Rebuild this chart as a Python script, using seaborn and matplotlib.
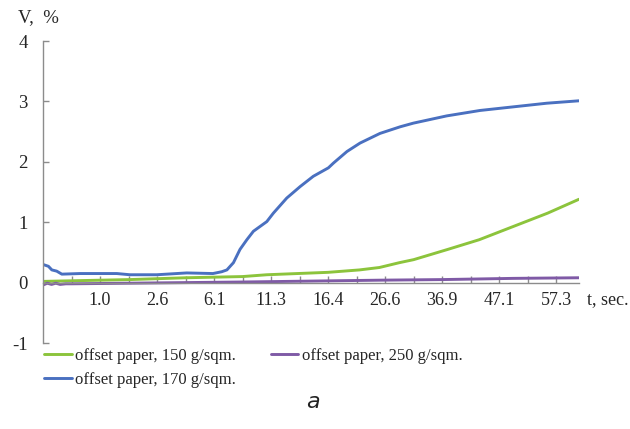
import numpy as np
import pandas as pd
import matplotlib
matplotlib.use("Agg")
import matplotlib.pyplot as plt
import seaborn as sns

# x positions are in category-tick units (one unit = one minor tick on the axis)
time_labels = ["1.0", "2.6", "6.1", "11.3", "16.4", "26.6", "36.9", "47.1", "57.3"]
label_pos = [2, 4, 6, 8, 10, 12, 14, 16, 18]

x_150 = [0.0, 1.0, 3.05, 5.0, 7.0, 7.85, 10.0, 11.1, 11.8, 12.5, 13.0, 14.2, 15.3, 16.5, 17.7, 18.8]
v_150 = [0.02, 0.03, 0.05, 0.08, 0.10, 0.13, 0.17, 0.21, 0.25, 0.33, 0.38, 0.55, 0.71, 0.93, 1.15, 1.38]

x_170 = [0.0, 0.19, 0.31, 0.48, 0.66, 1.3, 2.0, 2.59, 3.05, 3.99, 5.04, 5.96, 6.27, 6.45, 6.68,
         6.91, 7.15, 7.38, 7.85, 8.08, 8.55, 9.02, 9.48, 10.01, 10.19, 10.66, 11.12, 11.82,
         12.53, 12.99, 14.16, 15.33, 16.5, 17.67, 18.8]
v_170 = [0.30, 0.27, 0.21, 0.19, 0.14, 0.15, 0.15, 0.15, 0.13, 0.13, 0.16, 0.15, 0.18, 0.21, 0.33,
         0.55, 0.71, 0.85, 1.01, 1.15, 1.40, 1.59, 1.76, 1.90, 1.98, 2.17, 2.31, 2.47,
         2.58, 2.64, 2.76, 2.85, 2.91, 2.97, 3.01]

x_250 = [0.0, 0.15, 0.3, 0.45, 0.6, 0.8, 1.0, 3.0, 7.0, 11.8, 14.0, 16.5, 18.8]
v_250 = [-0.04, -0.01, -0.03, -0.01, -0.03, -0.02, -0.02, -0.01, 0.01, 0.04, 0.05, 0.07, 0.08]

names = ["offset paper, 150 g/sqm.", "offset paper, 170 g/sqm.", "offset paper, 250 g/sqm."]
colors = ["#8cc43c", "#4a70c0", "#7f5aa6"]

frames = []
for name, xs, vs in zip(names, [x_150, x_170, x_250], [v_150, v_170, v_250]):
    frames.append(pd.DataFrame({"pos": xs, "V": vs, "paper": name}))
df = pd.concat(frames, ignore_index=True)

sns.set_style("white")
plt.rcParams["font.family"] = ["Liberation Serif", "DejaVu Serif"]

fig = plt.figure(figsize=(6.3, 4.29), dpi=100)
ax = fig.add_axes([43 / 630, 86 / 429, 536 / 630, 302 / 429])

sns.lineplot(data=df, x="pos", y="V", hue="paper", hue_order=names,
             palette=colors, estimator=None, sort=False, linewidth=2.1,
             legend=False, ax=ax)

ax.set_xlim(0, 18.8)
ax.set_ylim(-1, 4)
ax.set_xlabel("")
ax.set_ylabel("")

# x axis crosses at zero
ax.spines["bottom"].set_position(("data", 0))
for s in ["top", "right"]:
    ax.spines[s].set_visible(False)
for s in ["left", "bottom"]:
    ax.spines[s].set_color("#8c8c8c")
    ax.spines[s].set_linewidth(1.0)

ax.set_xticks(label_pos)
ax.set_xticklabels(time_labels)
ax.set_xticks(range(1, 19), minor=True)
ax.tick_params(axis="x", which="both", direction="in", length=5, color="#8c8c8c",
               width=1.0, labelsize=13, pad=7, bottom=True)
ax.set_yticks([-1, 0, 1, 2, 3, 4])
ax.set_yticklabels(["-1", "0", "1", "2", "3", "4"])
ax.tick_params(axis="y", direction="in", length=4, color="#8c8c8c", width=1.0,
               labelsize=13.5, pad=11, left=True)

fig.text(18 / 630, 1 - 18 / 429, "V,  %", fontsize=13.5, va="center", ha="left")
fig.text(587 / 630, 1 - 300 / 429, "t, sec.", fontsize=13, va="center", ha="left")
fig.text(313 / 630, 1 - 402 / 429, "a", fontsize=16, style="italic",
         family=["DejaVu Sans"], color="#222222", va="center", ha="center")

handles = [plt.Line2D([], [], color=c, linewidth=2.1) for c in colors]
fig.legend(handles, names, ncol=2, loc="upper left",
           bbox_to_anchor=(44 / 630, 1 - 348 / 429), frameon=False,
           fontsize=12, handlelength=1.65, handletextpad=0.2,
           columnspacing=2.1, labelspacing=0.45, borderpad=0, borderaxespad=0)

fig.savefig("out.png", dpi=100)
